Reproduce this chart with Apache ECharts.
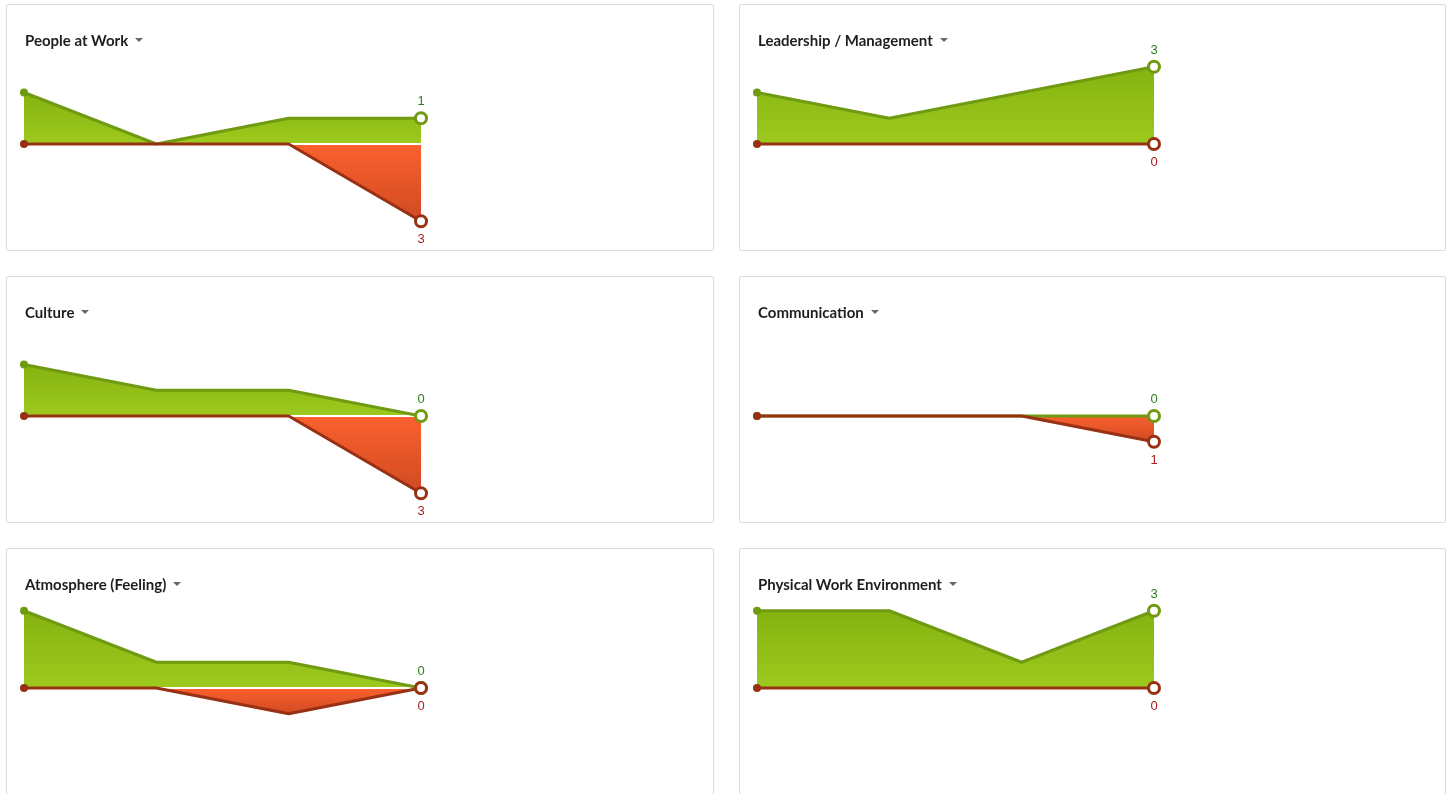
<!DOCTYPE html>
<html>
<head>
<meta charset="utf-8">
<script src="https://cdn.jsdelivr.net/npm/echarts@6/dist/echarts.min.js"></script>
<style>
  html, body { margin: 0; padding: 0; background: #fff; width: 1449px; height: 794px; overflow: hidden; }
  .card { position: absolute; box-sizing: border-box; border: 1px solid #dcdcdc; border-radius: 2px; background: #fff; }
  .card .title { position: absolute; left: 18px; top: 25px; font-family: Lato, "Noto Sans", sans-serif; font-weight: 700; font-size: 15px; line-height: 20px; color: #1e1e1e; white-space: nowrap; z-index: 2; }
  .card .caret { display: inline-block; width: 0; height: 0; border-left: 4px solid transparent; border-right: 4px solid transparent; border-top: 4px solid #666; margin-left: 7px; vertical-align: middle; position: relative; top: -2px; }
  .card .chart { position: absolute; left: 0; top: 0; right: 0; bottom: 0; }
</style>
</head>
<body>
<script>
// Four periods along each trend
const categories = ['Q1', 'Q2', 'Q3', 'Q4'];

const titles = [
  'People at Work',
  'Leadership / Management',
  'Culture',
  'Communication',
  'Atmosphere (Feeling)',
  'Physical Work Environment'
];

// Positive mentions (drawn above the baseline)
const peopleAtWorkPositive   = [2, 0, 1, 1];
const leadershipPositive     = [2, 1, 2, 3];
const culturePositive        = [2, 1, 1, 0];
const communicationPositive  = [0, 0, 0, 0];
const atmospherePositive     = [3, 1, 1, 0];
const physicalEnvPositive    = [3, 3, 1, 3];

// Negative mentions (drawn below the baseline)
const peopleAtWorkNegative   = [0, 0, 0, 3];
const leadershipNegative     = [0, 0, 0, 0];
const cultureNegative        = [0, 0, 0, 3];
const communicationNegative  = [0, 0, 0, 1];
const atmosphereNegative     = [0, 0, 1, 0];
const physicalEnvNegative    = [0, 0, 0, 0];

const positives = [peopleAtWorkPositive, leadershipPositive, culturePositive,
                   communicationPositive, atmospherePositive, physicalEnvPositive];
const negatives = [peopleAtWorkNegative, leadershipNegative, cultureNegative,
                   communicationNegative, atmosphereNegative, physicalEnvNegative];

const GREEN_LINE = '#6f9a12';
const GREEN_LABEL = '#2f7d1a';
const RED_LINE = '#983014';
const RED_LABEL = '#a82020';

// Card placement in a 3 x 2 grid
const cardLeft = [6, 739];
const cardWidth = [708, 707];
const cardTop = [4, 276, 548];
const cardHeight = 247;

function endpointData(values, color, labelPos, labelColor, labelDist) {
  const last = values.length - 1;
  return values.map(function (v, i) {
    const item = { value: v };
    if (i === 0) {
      item.symbol = 'circle';
      item.symbolSize = 8;
      item.itemStyle = { color: color, borderWidth: 0 };
    } else if (i === last) {
      item.symbol = 'circle';
      item.symbolSize = 11;
      item.itemStyle = { color: '#fff', borderColor: color, borderWidth: 3 };
      item.label = {
        show: true,
        position: labelPos,
        distance: labelDist,
        color: labelColor,
        fontFamily: '"Liberation Sans", Arial, sans-serif',
        fontSize: 13,
        formatter: function (p) { return String(Math.abs(p.value)); }
      };
    } else {
      item.symbol = 'none';
    }
    return item;
  });
}

titles.forEach(function (title, idx) {
  const col = idx % 2, row = Math.floor(idx / 2);
  const card = document.createElement('div');
  card.className = 'card';
  card.style.left = cardLeft[col] + 'px';
  card.style.top = cardTop[row] + 'px';
  card.style.width = cardWidth[col] + 'px';
  card.style.height = cardHeight + 'px';

  const chartEl = document.createElement('div');
  chartEl.className = 'chart';
  card.appendChild(chartEl);

  const t = document.createElement('div');
  t.className = 'title';
  t.appendChild(document.createTextNode(title));
  const caret = document.createElement('span');
  caret.className = 'caret';
  t.appendChild(caret);
  card.appendChild(t);

  document.body.appendChild(card);

  const pos = positives[idx];
  const neg = negatives[idx].map(function (v) { return -v; });
  const zero = categories.map(function () { return 0; });

  const chart = echarts.init(chartEl, null, { renderer: 'canvas' });
  chart.setOption({
    animation: false,
    grid: { left: 17, top: 36, width: 397, height: 206 },
    xAxis: { type: 'category', data: categories, boundaryGap: false, show: false },
    yAxis: { type: 'value', min: -4, max: 4, show: false },
    series: [
      {
        name: 'positive area', type: 'line', data: pos, showSymbol: false, silent: true,
        lineStyle: { width: 0 },
        areaStyle: {
          opacity: 1, origin: 'auto',
          color: new echarts.graphic.LinearGradient(0, 0, 0, 1, [
            { offset: 0, color: '#86b211' }, { offset: 1, color: '#9dca1d' }
          ])
        }
      },
      {
        name: 'negative area', type: 'line', data: neg, showSymbol: false, silent: true,
        lineStyle: { width: 0 },
        areaStyle: {
          opacity: 1, origin: 'auto',
          color: new echarts.graphic.LinearGradient(0, 0, 0, 1, [
            { offset: 0, color: '#fb602f' }, { offset: 1, color: '#d04b22' }
          ])
        }
      },
      {
        name: 'baseline', type: 'line', data: zero, showSymbol: false, silent: true,
        lineStyle: { color: '#ffffff', width: 2 }
      },
      {
        name: 'positive', type: 'line', data: endpointData(pos, GREEN_LINE, 'top', GREEN_LABEL, 3),
        showAllSymbol: true, lineStyle: { color: GREEN_LINE, width: 3 },
        itemStyle: { color: GREEN_LINE }
      },
      {
        name: 'negative', type: 'line', data: endpointData(neg, RED_LINE, 'bottom', RED_LABEL, 5),
        showAllSymbol: true, lineStyle: { color: RED_LINE, width: 3 },
        itemStyle: { color: RED_LINE }
      }
    ]
  });
});
</script>
</body>
</html>
